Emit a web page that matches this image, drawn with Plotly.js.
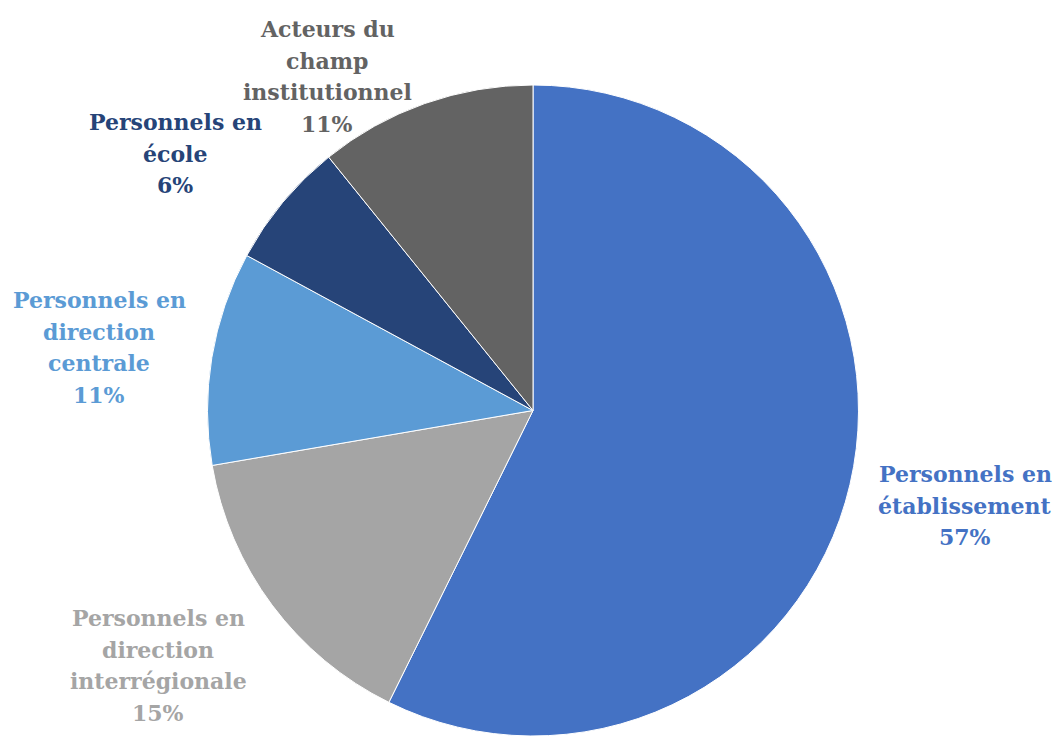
<!DOCTYPE html>
<html>
<head>
<meta charset="utf-8">
<script src="https://cdn.plot.ly/plotly-3.0.1.min.js"></script>
<style>html,body{margin:0;padding:0;background:#fff;}#chart{width:1054px;height:736px;}</style>
</head>
<body>
<div id="chart"></div>
<script>
// Data
const categories = [
  "Personnels en établissement",
  "Personnels en direction interrégionale",
  "Personnels en direction centrale",
  "Personnels en école",
  "Acteurs du champ institutionnel"
];
const values = [57.3, 15.0, 10.6, 6.3, 10.8];
const labelLines = [
  ["Personnels en", "établissement"],
  ["Personnels en", "direction", "interrégionale"],
  ["Personnels en", "direction", "centrale"],
  ["Personnels en", "école"],
  ["Acteurs du", "champ", "institutionnel"]
];
const colors = ["#4472C4", "#A5A5A5", "#5B9BD5", "#264478", "#636363"];
const textColors = ["#4472C4", "#A5A5A5", "#5B9BD5", "#264478", "#636363"];

// Layout of labels (centre x, first-line y in pixels from top)
const labelPos = [
  [965, 474],
  [158, 618],
  [99, 300],
  [175, 122],
  [327, 29]
];
const W = 1054, H = 736, lineStep = 31.6;

const total = values.reduce((a, b) => a + b, 0);
const annotations = [];
categories.forEach((c, i) => {
  const lines = labelLines[i].concat([Math.round(values[i] / total * 100) + "%"]);
  lines.forEach((ln, k) => {
    annotations.push({
      xref: "paper", yref: "paper",
      x: labelPos[i][0] / W,
      y: 1 - (labelPos[i][1] + k * lineStep) / H,
      xanchor: "center", yanchor: "middle",
      text: "<b>" + ln + "</b>",
      showarrow: false,
      font: {family: "DejaVu Serif", size: 22, color: textColors[i]}
    });
  });
});

const trace = {
  type: "pie",
  labels: categories,
  values: values,
  sort: false,
  direction: "clockwise",
  rotation: 0,
  textinfo: "none",
  hoverinfo: "label+percent",
  marker: {colors: colors, line: {color: "#ffffff", width: 1}},
  domain: {x: [207 / W, 859 / W], y: [0, 651 / H]},
  showlegend: false
};

Plotly.newPlot("chart", [trace], {
  width: W, height: H,
  margin: {l: 0, r: 0, t: 0, b: 0},
  paper_bgcolor: "#ffffff",
  showlegend: false,
  annotations: annotations
}, {displayModeBar: false, staticPlot: true});
</script>
</body>
</html>
